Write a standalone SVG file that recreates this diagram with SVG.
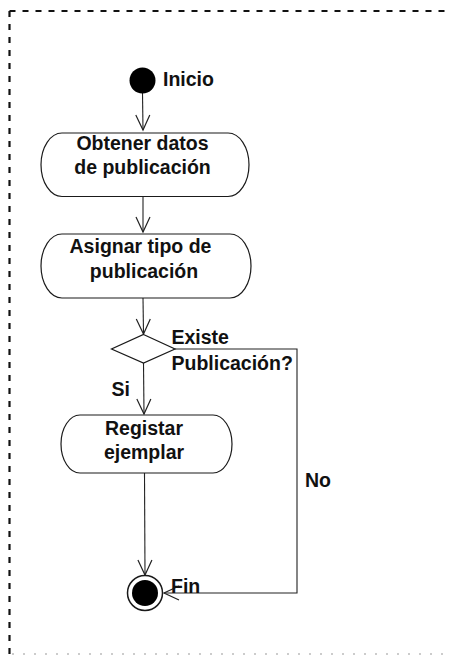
<svg xmlns="http://www.w3.org/2000/svg" width="457" height="657" viewBox="0 0 457 657">
<style>
.t{font-family:"Liberation Sans",Arial,sans-serif;font-weight:bold;font-size:19.5px;fill:#111}
.c{text-anchor:middle}
.act{fill:#fff;stroke:#1a1a1a;stroke-width:1.2}
.ln{fill:none;stroke:#222;stroke-width:1.1}
</style>
<defs>
<marker id="ah" markerUnits="userSpaceOnUse" viewBox="-16 -9 18 18" refX="0" refY="0" markerWidth="18" markerHeight="18" orient="auto">
<path d="M-15,-7 L0,0 L-15,7" fill="none" stroke="#222" stroke-width="1.2"/>
</marker>
</defs>
<rect width="457" height="657" fill="#fff"/>
<g id="frame">
<line x1="9.5" y1="11" x2="450" y2="11" stroke="#111" stroke-width="2.2" stroke-dasharray="6 7"/>
<line x1="9.5" y1="11" x2="9.5" y2="654" stroke="#111" stroke-width="2.2" stroke-dasharray="6 7"/>
<line x1="12" y1="654" x2="446" y2="654" stroke="#999" stroke-width="1" stroke-dasharray="2 9"/>
</g>
<g id="connectors">
<line class="ln" x1="142.5" y1="93" x2="143" y2="130" marker-end="url(#ah)"/>
<line class="ln" x1="143" y1="196.5" x2="143" y2="232" marker-end="url(#ah)"/>
<line class="ln" x1="143" y1="298" x2="143.5" y2="334" marker-end="url(#ah)"/>
<line class="ln" x1="143.5" y1="363" x2="144" y2="414" marker-end="url(#ah)"/>
<line class="ln" x1="144.5" y1="473" x2="145" y2="575" marker-end="url(#ah)"/>
<path class="ln" d="M175,349 H297 V593 H164" marker-end="url(#ah)"/>
</g>
<g id="inicio">
<circle cx="142.5" cy="80.5" r="13" fill="#000"/>
<text class="t" x="163" y="86">Inicio</text>
</g>
<g id="obtener">
<path class="act" d="M62,133 H228 A21,31.75 0 0 1 228,196.5 H62 A21,31.75 0 0 1 62,133 Z"/>
<text class="t c" x="142.5" y="150">Obtener datos</text>
<text class="t c" x="142.5" y="173.5">de publicación</text>
</g>
<g id="asignar">
<path class="act" d="M62,234 H230 A21,32 0 0 1 230,298 H62 A21,32 0 0 1 62,234 Z"/>
<text class="t c" x="140.5" y="253">Asignar tipo de</text>
<text class="t c" x="144" y="278">publicación</text>
</g>
<g id="decision">
<polygon points="143.5,334.5 175,349 143.5,363 111.5,349" fill="#fff" stroke="#1a1a1a" stroke-width="1.2"/>
<text class="t" x="171.5" y="343.5">Existe</text>
<text class="t" x="171.5" y="370">Publicación?</text>
</g>
<g id="registar">
<path class="act" d="M80,415 H213 A19,29 0 0 1 213,473 H80 A19,29 0 0 1 80,415 Z"/>
<text class="t c" x="144" y="435">Registar</text>
<text class="t c" x="144" y="458.5">ejemplar</text>
</g>
<g id="fin">
<circle cx="145" cy="593" r="17.5" fill="#fff" stroke="#1a1a1a" stroke-width="1.5"/>
<circle cx="145" cy="593" r="13" fill="#000"/>
<text class="t" x="171" y="592.5">Fin</text>
</g>
<g id="labels">
<text class="t" x="111.5" y="396">Si</text>
<text class="t" x="305" y="487">No</text>
</g>
</svg>
